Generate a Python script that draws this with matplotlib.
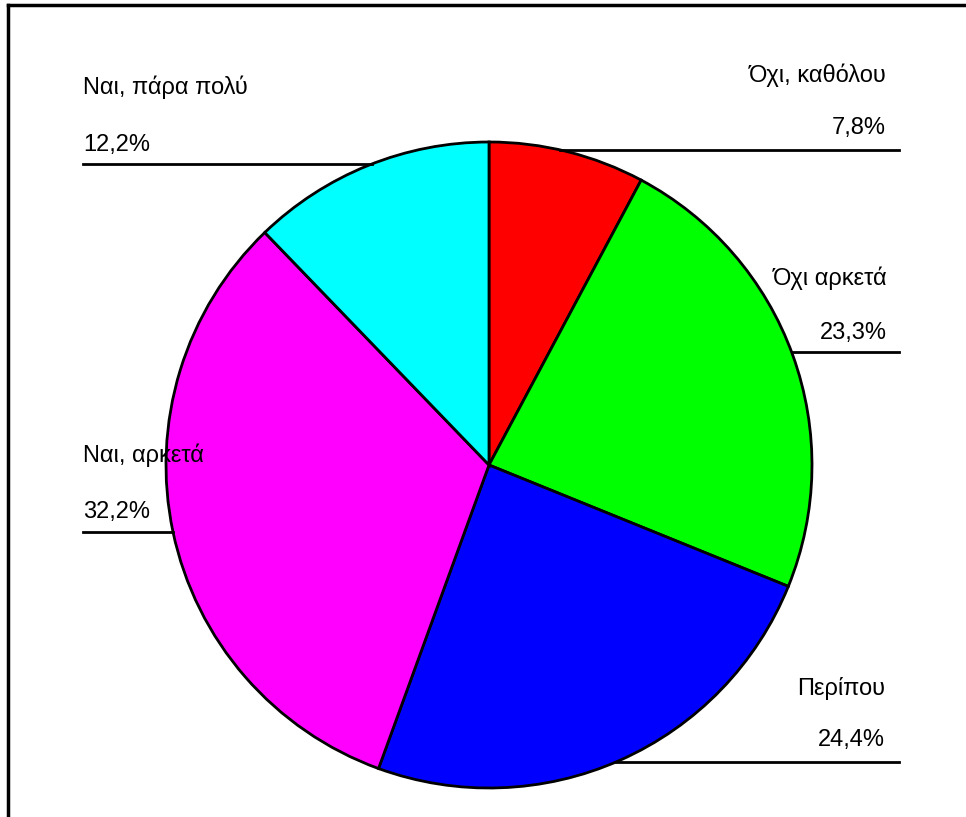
import numpy as np
import matplotlib.pyplot as plt

# survey answers, clockwise from 12 o'clock
labels = ['Όχι, καθόλου', 'Όχι αρκετά', 'Περίπου', 'Ναι, αρκετά', 'Ναι, πάρα πολύ']
shares = [7.8, 23.3, 24.4, 32.2, 12.2]
colors = ['#ff0000', '#00ff00', '#0000ff', '#ff00ff', '#00ffff']

W, H = 966, 817
cx, cy, r = 489, H - 465, 323

plt.rcParams['font.family'] = ['Liberation Sans', 'DejaVu Sans']

fig = plt.figure(figsize=(W / 100, H / 100), dpi=100)
ax = fig.add_axes([0, 0, 1, 1])

ax.pie(shares, colors=colors, startangle=90, counterclock=False,
       center=(cx, cy), radius=r,
       wedgeprops=dict(edgecolor='black', linewidth=2))

ax.set_xlim(0, W)
ax.set_ylim(0, H)
ax.set_aspect('auto')
ax.axis('off')

# outer frame (top and left edges only show)
ax.plot([8, W], [H - 5, H - 5], color='black', lw=2.5)
ax.plot([8, 8], [H - 5, 0], color='black', lw=2.5)

# label layout: (side, x of text, y of name, y of percent, y of leader line) in pixels from top
layout = [
    ('right', 886, 75, 128, 150),
    ('right', 887, 278, 333, 352),
    ('right', 885, 688, 740, 762),
    ('left', 83, 455, 512, 532),
    ('left', 83, 87, 145, 164),
]

for name, val, (side, tx, ny, py, ly) in zip(labels, shares, layout):
    ha = 'right' if side == 'right' else 'left'
    pct = f'{val:.1f}%'.replace('.', ',')
    ax.text(tx, H - ny, name, ha=ha, va='center', fontsize=17)
    ax.text(tx, H - py, pct, ha=ha, va='center', fontsize=17)
    yl = H - ly
    dx = np.sqrt(max(r ** 2 - (yl - cy) ** 2, 0))
    if side == 'right':
        ax.plot([cx + dx, 899], [yl, yl], color='black', lw=2)
    else:
        ax.plot([83, cx - dx], [yl, yl], color='black', lw=2)

fig.savefig('out.png', dpi=100, facecolor='white')
